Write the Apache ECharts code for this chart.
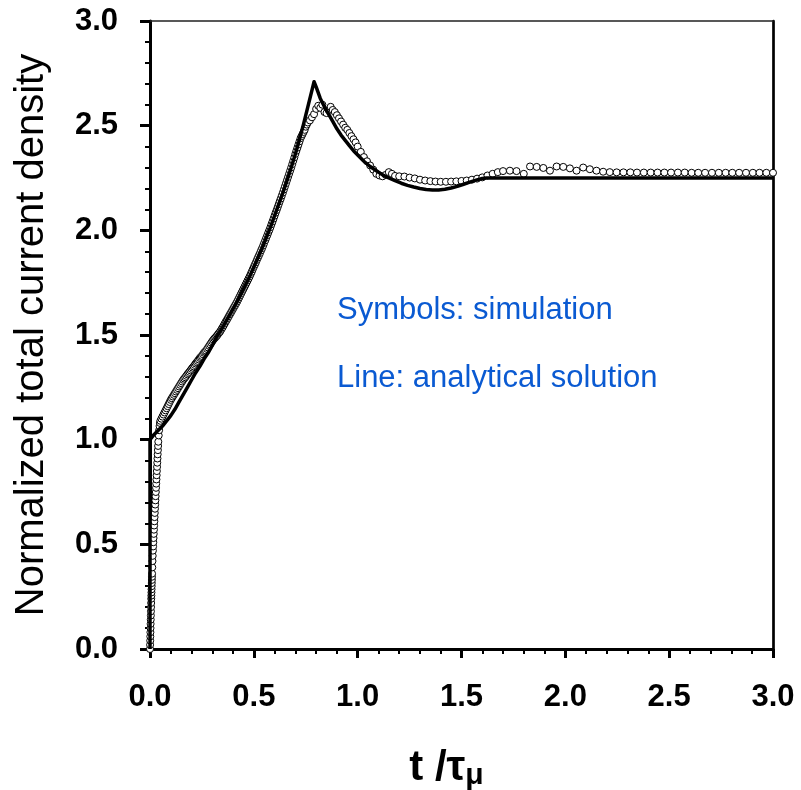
<!DOCTYPE html>
<html>
<head>
<meta charset="utf-8">
<script src="https://cdn.jsdelivr.net/npm/echarts@6/dist/echarts.min.js"></script>
<style>
html,body{margin:0;padding:0;background:#fff;}
#chart{width:801px;height:790px;}
</style>
</head>
<body>
<div id="chart"></div>
<script>
// ---- data ----
var xTicks = [0, 0.5, 1.0, 1.5, 2.0, 2.5, 3.0];
var yTicks = [0, 0.5, 1.0, 1.5, 2.0, 2.5, 3.0];

var lineTime = [0, 0, 0.02, 0.04, 0.06, 0.08, 0.10, 0.12, 0.14, 0.16, 0.18, 0.20, 0.22, 0.24, 0.26, 0.28, 0.30,
  0.32, 0.34, 0.36, 0.38, 0.40, 0.42, 0.44, 0.46, 0.48, 0.50, 0.52, 0.54, 0.56, 0.58, 0.60, 0.62, 0.64, 0.66, 0.68,
  0.70, 0.72, 0.74, 0.76, 0.78, 0.79, 0.80, 0.82, 0.84, 0.86, 0.88, 0.90, 0.92, 0.94, 0.96, 0.98, 1.00, 1.03, 1.06,
  1.09, 1.12, 1.15, 1.18, 1.21, 1.24, 1.27, 1.30, 1.33, 1.36, 1.39, 1.42, 1.45, 1.48, 1.51, 1.54, 1.57, 1.60, 1.62, 3.0];
var lineValue = [0, 1.0, 1.025, 1.045, 1.065, 1.09, 1.115, 1.145, 1.18, 1.215, 1.25, 1.285, 1.32, 1.35, 1.385, 1.415, 1.45,
  1.49, 1.52, 1.555, 1.59, 1.625, 1.66, 1.70, 1.74, 1.78, 1.825, 1.87, 1.915, 1.965, 2.015, 2.07, 2.125, 2.18, 2.24, 2.30,
  2.365, 2.435, 2.51, 2.59, 2.67, 2.71, 2.685, 2.63, 2.59, 2.555, 2.52, 2.485, 2.455, 2.43, 2.405, 2.38, 2.36, 2.33, 2.305,
  2.285, 2.265, 2.25, 2.237, 2.225, 2.215, 2.207, 2.20, 2.195, 2.193, 2.193, 2.196, 2.202, 2.21, 2.22, 2.23, 2.24, 2.248, 2.25, 2.25];

var simTime = [0, 0.0005, 0.001, 0.0015, 0.002, 0.0025, 0.003, 0.0035, 0.004, 0.0045, 0.005, 0.0055, 0.006, 0.0065, 0.007,
  0.0075, 0.008, 0.0085, 0.009, 0.0095, 0.010, 0.011, 0.012, 0.013, 0.014, 0.015, 0.016, 0.017, 0.018, 0.019, 0.020, 0.021,
  0.022, 0.023, 0.024, 0.025, 0.026, 0.027, 0.028, 0.029, 0.030, 0.031, 0.032, 0.033, 0.034, 0.035, 0.036, 0.037, 0.038,
  0.039, 0.040, 0.042, 0.044, 0.046, 0.048, 0.050,
  0.055, 0.06, 0.065, 0.07, 0.075, 0.08, 0.085, 0.09, 0.095, 0.10, 0.105, 0.11, 0.115, 0.12, 0.125, 0.13, 0.135, 0.14, 0.145,
  0.15, 0.155, 0.16, 0.165, 0.17, 0.175, 0.18, 0.185, 0.19, 0.195, 0.20, 0.205, 0.21, 0.215, 0.22, 0.225, 0.23, 0.235, 0.24,
  0.245, 0.25, 0.255, 0.26, 0.265, 0.27, 0.275, 0.28, 0.285, 0.29, 0.295, 0.30,
  0.305, 0.31, 0.315, 0.32, 0.325, 0.33, 0.335, 0.34, 0.345, 0.35, 0.355, 0.36, 0.365, 0.37, 0.375, 0.38, 0.385, 0.39, 0.395,
  0.40, 0.405, 0.41, 0.415, 0.42, 0.425, 0.43, 0.435, 0.44, 0.445, 0.45, 0.455, 0.46, 0.465, 0.47, 0.475, 0.48, 0.485, 0.49,
  0.495, 0.50, 0.505, 0.51, 0.515, 0.52, 0.525, 0.53, 0.535, 0.54, 0.545, 0.55, 0.555, 0.56, 0.565, 0.57, 0.575, 0.58, 0.585,
  0.59, 0.595, 0.60, 0.605, 0.61, 0.615, 0.62, 0.625, 0.63, 0.635, 0.64, 0.645, 0.65, 0.655, 0.66, 0.665, 0.67, 0.675, 0.68,
  0.685, 0.69, 0.695, 0.70, 0.705, 0.71, 0.715, 0.72, 0.725, 0.73, 0.735, 0.74, 0.745, 0.75, 0.755, 0.76, 0.77, 0.78, 0.79,
  0.80, 0.81, 0.82, 0.83, 0.84, 0.85, 0.86, 0.87, 0.88, 0.89, 0.90, 0.91, 0.92, 0.93, 0.94, 0.95, 0.96, 0.97, 0.98, 0.99,
  1.00, 1.015, 1.03, 1.045, 1.06, 1.075, 1.09, 1.105, 1.12, 1.135, 1.15, 1.165, 1.18, 1.20, 1.225, 1.25, 1.275, 1.30, 1.325,
  1.35, 1.375, 1.40, 1.425, 1.45, 1.475, 1.50, 1.525, 1.55, 1.575, 1.60, 1.625, 1.65, 1.675, 1.70, 1.733, 1.765, 1.80, 1.83,
  1.862, 1.894, 1.926, 1.958, 1.99, 2.022, 2.054, 2.086, 2.118, 2.15, 2.182, 2.214, 2.247, 2.28, 2.313, 2.345, 2.378, 2.411,
  2.444, 2.477, 2.509, 2.542, 2.575, 2.608, 2.64, 2.673, 2.706, 2.739, 2.772, 2.804, 2.837, 2.87, 2.903, 2.935, 2.968, 3.0];
var simValue = [0, 0.02, 0.04, 0.06, 0.08, 0.10, 0.12, 0.14, 0.16, 0.18, 0.20, 0.22, 0.24, 0.255, 0.27,
  0.285, 0.30, 0.315, 0.33, 0.345, 0.36, 0.39, 0.42, 0.445, 0.47, 0.49, 0.51, 0.53, 0.55, 0.57, 0.59, 0.61,
  0.63, 0.65, 0.67, 0.69, 0.71, 0.73, 0.75, 0.77, 0.79, 0.81, 0.83, 0.85, 0.87, 0.89, 0.91, 0.93, 0.95,
  0.97, 0.99, 1.02, 1.045, 1.065, 1.08, 1.09,
  1.10, 1.11, 1.12, 1.13, 1.14, 1.15, 1.16, 1.17, 1.18, 1.19, 1.198, 1.206, 1.214, 1.222, 1.23, 1.238, 1.246, 1.254, 1.262,
  1.27, 1.278, 1.286, 1.292, 1.298, 1.305, 1.312, 1.318, 1.324, 1.331, 1.338, 1.344, 1.35, 1.357, 1.364, 1.37, 1.376, 1.383, 1.39,
  1.395, 1.40, 1.408, 1.415, 1.42, 1.425, 1.433, 1.44, 1.448, 1.455, 1.463, 1.47,
  1.477, 1.483, 1.488, 1.494, 1.50, 1.507, 1.513, 1.52, 1.529, 1.537, 1.546, 1.555, 1.564, 1.572, 1.581, 1.59, 1.599, 1.607, 1.616,
  1.625, 1.634, 1.642, 1.651, 1.66, 1.67, 1.68, 1.69, 1.70, 1.71, 1.72, 1.73, 1.74, 1.75, 1.76, 1.77, 1.78, 1.791, 1.802,
  1.814, 1.825, 1.836, 1.847, 1.859, 1.87, 1.881, 1.892, 1.904, 1.915, 1.927, 1.94, 1.952, 1.965, 1.977, 1.99, 2.002, 2.015, 2.029,
  2.042, 2.056, 2.07, 2.084, 2.097, 2.111, 2.125, 2.139, 2.152, 2.166, 2.18, 2.195, 2.21, 2.225, 2.24, 2.255, 2.27, 2.285, 2.30,
  2.316, 2.332, 2.348, 2.365, 2.38, 2.395, 2.41, 2.425, 2.44, 2.45, 2.46, 2.47, 2.48, 2.495, 2.505, 2.515, 2.525, 2.54, 2.555, 2.58,
  2.595, 2.585, 2.60, 2.565, 2.56, 2.575, 2.59, 2.575, 2.565, 2.55, 2.535, 2.52, 2.505, 2.49, 2.48, 2.465, 2.45, 2.435, 2.42, 2.40,
  2.375, 2.35, 2.33, 2.31, 2.29, 2.27, 2.262, 2.258, 2.265, 2.278, 2.27, 2.26, 2.258, 2.257, 2.252, 2.248, 2.242, 2.238, 2.235,
  2.233, 2.232, 2.232, 2.233, 2.234, 2.236, 2.238, 2.242, 2.247, 2.253, 2.262, 2.27, 2.278, 2.283, 2.285, 2.283, 2.27, 2.305, 2.303,
  2.298, 2.285, 2.305, 2.303, 2.296, 2.285, 2.30, 2.292, 2.285, 2.28, 2.278, 2.277, 2.277, 2.277, 2.276, 2.276, 2.276, 2.276,
  2.276, 2.276, 2.276, 2.276, 2.275, 2.275, 2.275, 2.275, 2.275, 2.275, 2.275, 2.275, 2.275, 2.275, 2.275, 2.275, 2.275, 2.275];

var yTitle = 'Normalized total current density';
var note1 = 'Symbols: simulation';
var note2 = 'Line: analytical solution';

// ---- chart ----
var FONT = '"Liberation Sans", Arial, Helvetica, sans-serif';
var chart = echarts.init(document.getElementById('chart'), null, {renderer: 'canvas'});
function pairs(a, b) { return a.map(function (v, i) { return [v, b[i]]; }); }
function fmt(v) { return v.toFixed(1); }

var option = {
  animation: false,
  backgroundColor: '#fff',
  grid: {left: 150, right: 28, top: 21, bottom: 141, outerBoundsMode: 'none', containLabel: false},
  xAxis: [{
    type: 'value', min: xTicks[0], max: xTicks[xTicks.length - 1], interval: 0.5,
    axisLine: {onZero: false, lineStyle: {color: '#000', width: 3}},
    axisTick: {length: 9, lineStyle: {color: '#000', width: 3}},
    minorTick: {show: true, splitNumber: 5, length: 5, lineStyle: {color: '#000', width: 2}},
    splitLine: {show: false},
    axisLabel: {formatter: fmt, fontSize: 31, fontWeight: 'bold', color: '#000', fontFamily: FONT, margin: 33},
    name: '{a|t /τ}{b|μ}', nameLocation: 'middle', nameGap: 96,
    nameTextStyle: {
      padding: [0, 30, 0, 0],
      rich: {
        a: {fontSize: 42, fontWeight: 'bold', color: '#000', fontFamily: FONT, verticalAlign: 'middle', lineHeight: 46},
        b: {fontSize: 30, fontWeight: 'bold', color: '#000', fontFamily: FONT, verticalAlign: 'bottom', lineHeight: 20}
      }
    }
  }, {
    type: 'value', position: 'top', min: 0, max: 3,
    axisLine: {show: true, onZero: false, lineStyle: {color: '#222', width: 1.5}},
    axisTick: {show: false}, axisLabel: {show: false}, splitLine: {show: false}
  }],
  yAxis: [{
    type: 'value', min: yTicks[0], max: yTicks[yTicks.length - 1], interval: 0.5,
    axisLine: {onZero: false, lineStyle: {color: '#000', width: 3}},
    axisTick: {length: 10, lineStyle: {color: '#000', width: 3}},
    minorTick: {show: true, splitNumber: 5, length: 5, lineStyle: {color: '#000', width: 2}},
    splitLine: {show: false},
    axisLabel: {formatter: fmt, fontSize: 31, fontWeight: 'bold', color: '#000', fontFamily: FONT, margin: 32},
    name: yTitle, nameLocation: 'middle', nameGap: 98,
    nameTextStyle: {fontSize: 40, color: '#000', fontFamily: FONT}
  }, {
    type: 'value', position: 'right', min: 0, max: 3,
    axisLine: {show: true, onZero: false, lineStyle: {color: '#000', width: 2.7}},
    axisTick: {show: false}, axisLabel: {show: false}, splitLine: {show: false}
  }],
  graphic: [
    {type: 'text', left: 337, top: 295, style: {text: note1, fontSize: 31, fill: '#0a5ad2', fontFamily: FONT}},
    {type: 'text', left: 337, top: 363, style: {text: note2, fontSize: 31, fill: '#0a5ad2', fontFamily: FONT}}
  ],
  series: [{
    type: 'scatter', name: 'simulation', data: pairs(simTime, simValue),
    symbol: 'circle', symbolSize: 7,
    itemStyle: {color: '#fff', borderColor: '#000', borderWidth: 1, opacity: 1},
    z: 2, silent: true
  }, {
    type: 'line', name: 'analytical', data: pairs(lineTime, lineValue),
    showSymbol: false, symbol: 'none', smooth: false,
    lineStyle: {color: '#000', width: 3.5, join: 'round'},
    z: 3, silent: true
  }]
};
chart.setOption(option);
</script>
</body>
</html>
